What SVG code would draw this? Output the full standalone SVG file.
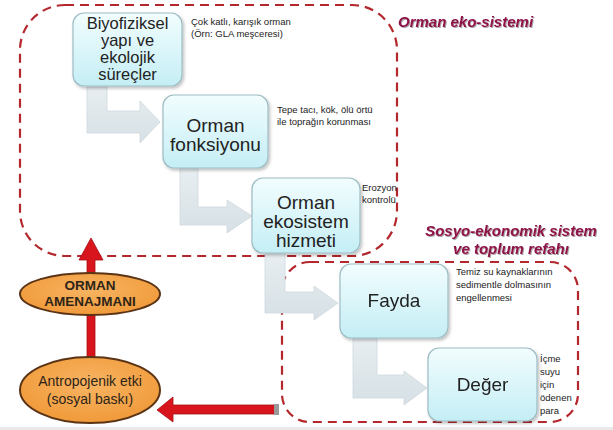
<svg xmlns="http://www.w3.org/2000/svg" width="613" height="430" viewBox="0 0 613 430">
<defs>
<linearGradient id="boxg" x1="0" y1="0" x2="0" y2="1">
<stop offset="0" stop-color="#f2fdfe"/>
<stop offset="1" stop-color="#c4eef5"/>
</linearGradient>
<linearGradient id="arrg" x1="0" y1="0" x2="0" y2="1">
<stop offset="0" stop-color="#e8eef1"/>
<stop offset="1" stop-color="#d6e0e5"/>
</linearGradient>
<radialGradient id="ellg" cx="0.5" cy="0.4" r="0.6">
<stop offset="0" stop-color="#f8b462"/>
<stop offset="1" stop-color="#f09a3a"/>
</radialGradient>
<filter id="sh" x="-10%" y="-10%" width="130%" height="130%">
<feDropShadow dx="1.5" dy="2" stdDeviation="1.5" flood-color="#000" flood-opacity="0.25"/>
</filter>
<filter id="tsh" x="-5%" y="-20%" width="110%" height="150%">
<feDropShadow dx="1" dy="1" stdDeviation="0.6" flood-color="#000" flood-opacity="0.35"/>
</filter>
</defs>
<style>
.region{fill:none;stroke:#b3272d;stroke-width:2.2;stroke-dasharray:9 6}
.box{fill:url(#boxg);stroke:#9dbcc3;stroke-width:1.2}
.garrow{fill:url(#arrg);stroke:#cfd9de;stroke-width:0.8}
.bt{font-family:"Liberation Sans",Arial,sans-serif;font-size:19px;fill:#222;text-anchor:middle}
.note{font-family:"Liberation Sans",Arial,sans-serif;font-size:9.5px;fill:#222}
.title{font-family:"Liberation Sans",Arial,sans-serif;font-size:15px;font-weight:bold;font-style:italic;fill:#8e1247}
.ell{fill:url(#ellg);stroke:#5b3416;stroke-width:2}
.et{font-family:"Liberation Sans",Arial,sans-serif;fill:#2e2418;text-anchor:middle}
.red{fill:#d8141c;stroke:#a51015;stroke-width:0.8}
</style>
<rect x="0" y="427" width="613" height="3" fill="#e9e9e9"/>
<g id="regions">
<rect class="region" x="20" y="5" width="377" height="251" rx="45"/>
<rect class="region" x="282" y="262" width="296" height="160" rx="28"/>
</g>
<g id="connectors">
<path class="garrow" d="M87 87 H107 V111 H140 V101 L160 122 L140 143 V133 H87 Z"/>
<path class="garrow" d="M180 168 H198 V207 H227 V200 L252 216 L227 233 V225 H180 Z"/>
<path class="garrow" d="M265 253 H285 V292 H314 V286 L338 303 L314 320 V313 H265 Z"/>
<path class="garrow" d="M353 338 H377 V375 H404 V371 L427 388 L404 405 V398 H353 Z"/>
<path class="red" d="M87 357 V260 H79 L91 238 L103 260 H95 V357 Z"/>
<path class="red" d="M278 405 H173 V397 L157 410 L173 422 V414 H278 Z"/>
<rect x="274" y="404" width="5" height="11" fill="#9a9a9a"/>
</g>
<g id="n1" filter="url(#sh)">
<rect class="box" x="73" y="13" width="109" height="73" rx="11"/>
</g>
<text class="bt" x="127.5" y="29" style="font-size:16.5px">Biyofiziksel</text>
<text class="bt" x="127.5" y="46" style="font-size:16.5px">yapı ve</text>
<text class="bt" x="127.5" y="63" style="font-size:16.5px">ekolojik</text>
<text class="bt" x="127.5" y="80" style="font-size:16.5px">süreçler</text>
<g id="n2" filter="url(#sh)">
<rect class="box" x="163" y="95" width="105" height="73" rx="11"/>
</g>
<text class="bt" x="215.5" y="132">Orman</text>
<text class="bt" x="215.5" y="151">fonksiyonu</text>
<g id="n3" filter="url(#sh)">
<rect class="box" x="252" y="178" width="108" height="75" rx="11"/>
</g>
<text class="bt" x="306" y="209">Orman</text>
<text class="bt" x="306" y="228">ekosistem</text>
<text class="bt" x="306" y="247">hizmeti</text>
<g id="n4" filter="url(#sh)">
<rect class="box" x="340" y="264" width="108" height="74" rx="11"/>
<text class="bt" x="394" y="307">Fayda</text>
</g>
<g id="n5" filter="url(#sh)">
<rect class="box" x="428" y="348" width="109" height="73" rx="11"/>
<text class="bt" x="482.5" y="391">Değer</text>
</g>
<g id="n6">
<ellipse class="ell" cx="90" cy="294" rx="70" ry="21"/>
<text class="et" x="90" y="290" style="font-size:13.5px;font-weight:bold">ORMAN</text>
<text class="et" x="90" y="306" style="font-size:13.5px;font-weight:bold">AMENAJMANI</text>
</g>
<g id="n7">
<ellipse class="ell" cx="90" cy="390" rx="70" ry="33"/>
<text class="et" x="90" y="386" style="font-size:14px">Antropojenik etki</text>
<text class="et" x="90" y="404" style="font-size:14px">(sosyal baskı)</text>
</g>
<g id="notes">
<text class="note" x="191" y="25">Çok katlı, karışık orman</text>
<text class="note" x="191" y="37">(Örn: GLA meşceresi)</text>
<text class="note" x="277" y="113">Tepe tacı, kök, ölü örtü</text>
<text class="note" x="277" y="125">ile toprağın korunması</text>
<text class="note" x="362" y="191">Erozyon</text>
<text class="note" x="362" y="203">kontrolü</text>
<text class="note" x="456" y="275">Temiz su kaynaklarının</text>
<text class="note" x="456" y="288">sedimentle dolmasının</text>
<text class="note" x="456" y="301">engellenmesi</text>
<text class="note" x="540" y="362">İçme</text>
<text class="note" x="540" y="375">suyu</text>
<text class="note" x="540" y="388">için</text>
<text class="note" x="540" y="401">ödenen</text>
<text class="note" x="540" y="414">para</text>
</g>
<g id="titles" filter="url(#tsh)">
<text class="title" x="398" y="27">Orman eko-sistemi</text>
<text class="title" x="511" y="236" text-anchor="middle">Sosyo-ekonomik sistem</text>
<text class="title" x="511" y="254" text-anchor="middle">ve toplum refahı</text>
</g>
</svg>
